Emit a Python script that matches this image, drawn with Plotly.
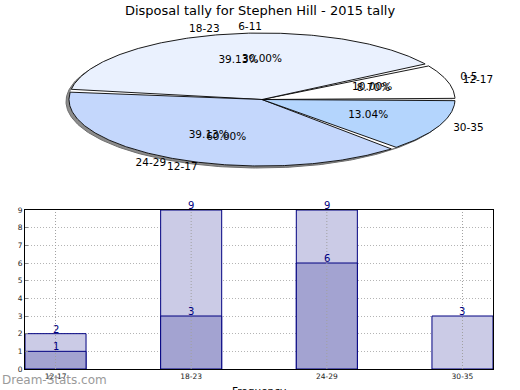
import numpy as np
import plotly.graph_objects as go

# ---------------- data ----------------
title_text = "Disposal tally for Stephen Hill - 2015 tally"

bar_categories = ["12-17", "18-23", "24-29", "30-35"]
bar_total = [2, 9, 9, 3]
bar_dark_categories = ["12-17", "18-23", "24-29"]
bar_dark = [1, 3, 6]

pie1_labels = ["12-17", "18-23", "24-29", "30-35"]
pie1_values = [2, 9, 9, 3]
pie2_labels = ["0-5", "6-11", "12-17"]
pie2_values = [1, 3, 6]

y_ticks = list(range(0, 10))

# ---------------- style ----------------
W, H = 520, 390
CX, CY, RX, RY = 262, 99.5, 193, 66.5
pie1_colors = ["#ffffff", "#eaf1fe", "#c4d7fc", "#b4d5fd"]
FONT = "DejaVu Sans"

fig = go.Figure()


def ell(t_deg, f=1.0):
    t = np.radians(t_deg)
    return CX + f * RX * np.cos(t), CY - f * RY * np.sin(t)


def wedge_xy(a0, a1, gap):
    n = max(int(abs(a1 - a0)) * 2, 4)
    t = np.linspace(a0 + gap, a1 - gap, n)
    x, y = ell(t)
    return [CX] + list(x) + [CX], [CY] + list(y) + [CY]


# 3D shadow edge
t = np.linspace(0, 360, 361)
sx, sy = ell(t)
fig.add_trace(go.Scatter(x=list(sx - 3), y=list(sy + 2), xaxis="x2", yaxis="y2",
                         mode="lines", fill="toself", fillcolor="#8c8c8c",
                         line=dict(color="#6e6e6e", width=1), hoverinfo="skip",
                         showlegend=False))


def add_pie(labels, values, colors, outline, gap):
    tot = float(sum(values))
    start = 0.0
    lx, ly, lpos, px, py, ptxt = [], [], [], [], [], []
    for i, v in enumerate(values):
        span = 360.0 * v / tot
        a0, a1 = start, start + span
        wx, wy = wedge_xy(a0, a1, gap)
        fig.add_trace(go.Scatter(x=wx, y=wy, xaxis="x2", yaxis="y2", mode="lines",
                                 fill="toself", fillcolor=colors[i % len(colors)],
                                 line=dict(color=outline, width=0.9 if outline != "rgba(0,0,0,0)" else 0),
                                 hoverinfo="skip", showlegend=False))
        mid = (a0 + a1) / 2
        x, y = ell(mid, 1.08)
        lx.append(x); ly.append(y)
        lpos.append("middle right" if np.cos(np.radians(mid)) > 0.01 else "middle left")
        x, y = ell(mid, 0.6)
        px.append(x); py.append(y)
        ptxt.append(f"{100 * v / tot:.2f}%")
        start = a1
    return labels, lx, ly, lpos, px, py, ptxt


res2 = add_pie(pie2_labels, pie2_values, ["#ffffff"], "rgba(0,0,0,0)", 0.0)
res1 = add_pie(pie1_labels, pie1_values, pie1_colors, "#000000", 1.0)

for labels, lx, ly, lpos, px, py, ptxt in (res1, res2):
    fig.add_trace(go.Scatter(x=lx, y=ly, xaxis="x2", yaxis="y2", mode="text",
                             text=labels, textposition=lpos,
                             textfont=dict(family=FONT, size=10.5, color="#000000"),
                             cliponaxis=False, hoverinfo="skip", showlegend=False))
    fig.add_trace(go.Scatter(x=px, y=py, xaxis="x2", yaxis="y2", mode="text",
                             text=ptxt, textposition="middle center",
                             textfont=dict(family=FONT, size=10.5, color="#000000"),
                             cliponaxis=False, hoverinfo="skip", showlegend=False))

# ---------------- bars ----------------
fig.add_trace(go.Bar(x=bar_categories, y=bar_total, width=0.45,
                     marker=dict(color="#cbcbe6", line=dict(color="#000080", width=1)),
                     hoverinfo="skip", showlegend=False))
fig.add_trace(go.Bar(x=bar_dark_categories, y=bar_dark, width=0.45,
                     marker=dict(color="#a3a3d1", line=dict(color="#000080", width=1)),
                     hoverinfo="skip", showlegend=False))

for c in bar_categories:
    fig.add_shape(type="line", xref="x", yref="y domain", x0=c, x1=c, y0=0, y1=1,
                  line=dict(color="#a0a0a0", width=1, dash="1px,2px"), layer="above")

annotations = []
for cats, vals in ((bar_categories, bar_total), (bar_dark_categories, bar_dark)):
    for c, v in zip(cats, vals):
        annotations.append(dict(text=str(v), x=c, y=v, xref="x", yref="y",
                                xanchor="center", yanchor="bottom", yshift=-3,
                                showarrow=False,
                                font=dict(family=FONT, size=10, color="#000080")))

annotations += [
    dict(text="Frequency", xref="paper", yref="paper", x=259 / W, y=(H - 383) / H,
         xanchor="center", yanchor="top", showarrow=False,
         font=dict(family=FONT, size=10.5, color="#000000")),
    dict(text="Dream-Stats.com", xref="paper", yref="paper", x=0, y=(H - 380) / H,
         xanchor="left", yanchor="middle", showarrow=False,
         font=dict(family=FONT, size=12, color="#9a9a9a")),
]

fig.update_layout(
    width=W, height=H,
    margin=dict(l=0, r=0, t=0, b=0, pad=0, autoexpand=False),
    paper_bgcolor="white", plot_bgcolor="white",
    barmode="overlay",
    title=dict(text=title_text, x=0.5, xanchor="center", y=1 - 10.5 / H, yanchor="middle",
               yref="paper", automargin=False,
               font=dict(family=FONT, size=13, color="#000000")),
    xaxis=dict(domain=[25 / W, 493 / W], range=[-0.225, 3.225], type="category",
               categoryorder="array", categoryarray=bar_categories,
               showline=True, linecolor="#000000", linewidth=1, mirror=True,
               showgrid=False, ticks="", tickfont=dict(family=FONT, size=7.5, color="#222"),
               anchor="y", fixedrange=True, automargin=False),
    yaxis=dict(domain=[(H - 369) / H, (H - 210) / H], range=[0, 9],
               tickvals=y_ticks, showline=True, linecolor="#000000", linewidth=1, mirror=True,
               showgrid=True, gridcolor="#b4b4b4", griddash="1px,2px", gridwidth=1,
               ticks="inside", ticklen=3, tickcolor="#888888",
               tickfont=dict(family=FONT, size=7.5, color="#222"), zeroline=False,
               anchor="x", fixedrange=True, automargin=False),
    xaxis2=dict(domain=[0, 1], range=[0, W], visible=False, anchor="y2", fixedrange=True),
    yaxis2=dict(domain=[0.5, 1], range=[H / 2, 0], visible=False, anchor="x2", fixedrange=True),
    annotations=annotations,
)

fig.write_html("out.html", config={"displayModeBar": False},
               post_script="document.body.style.margin='0';document.body.style.overflow='hidden';")
